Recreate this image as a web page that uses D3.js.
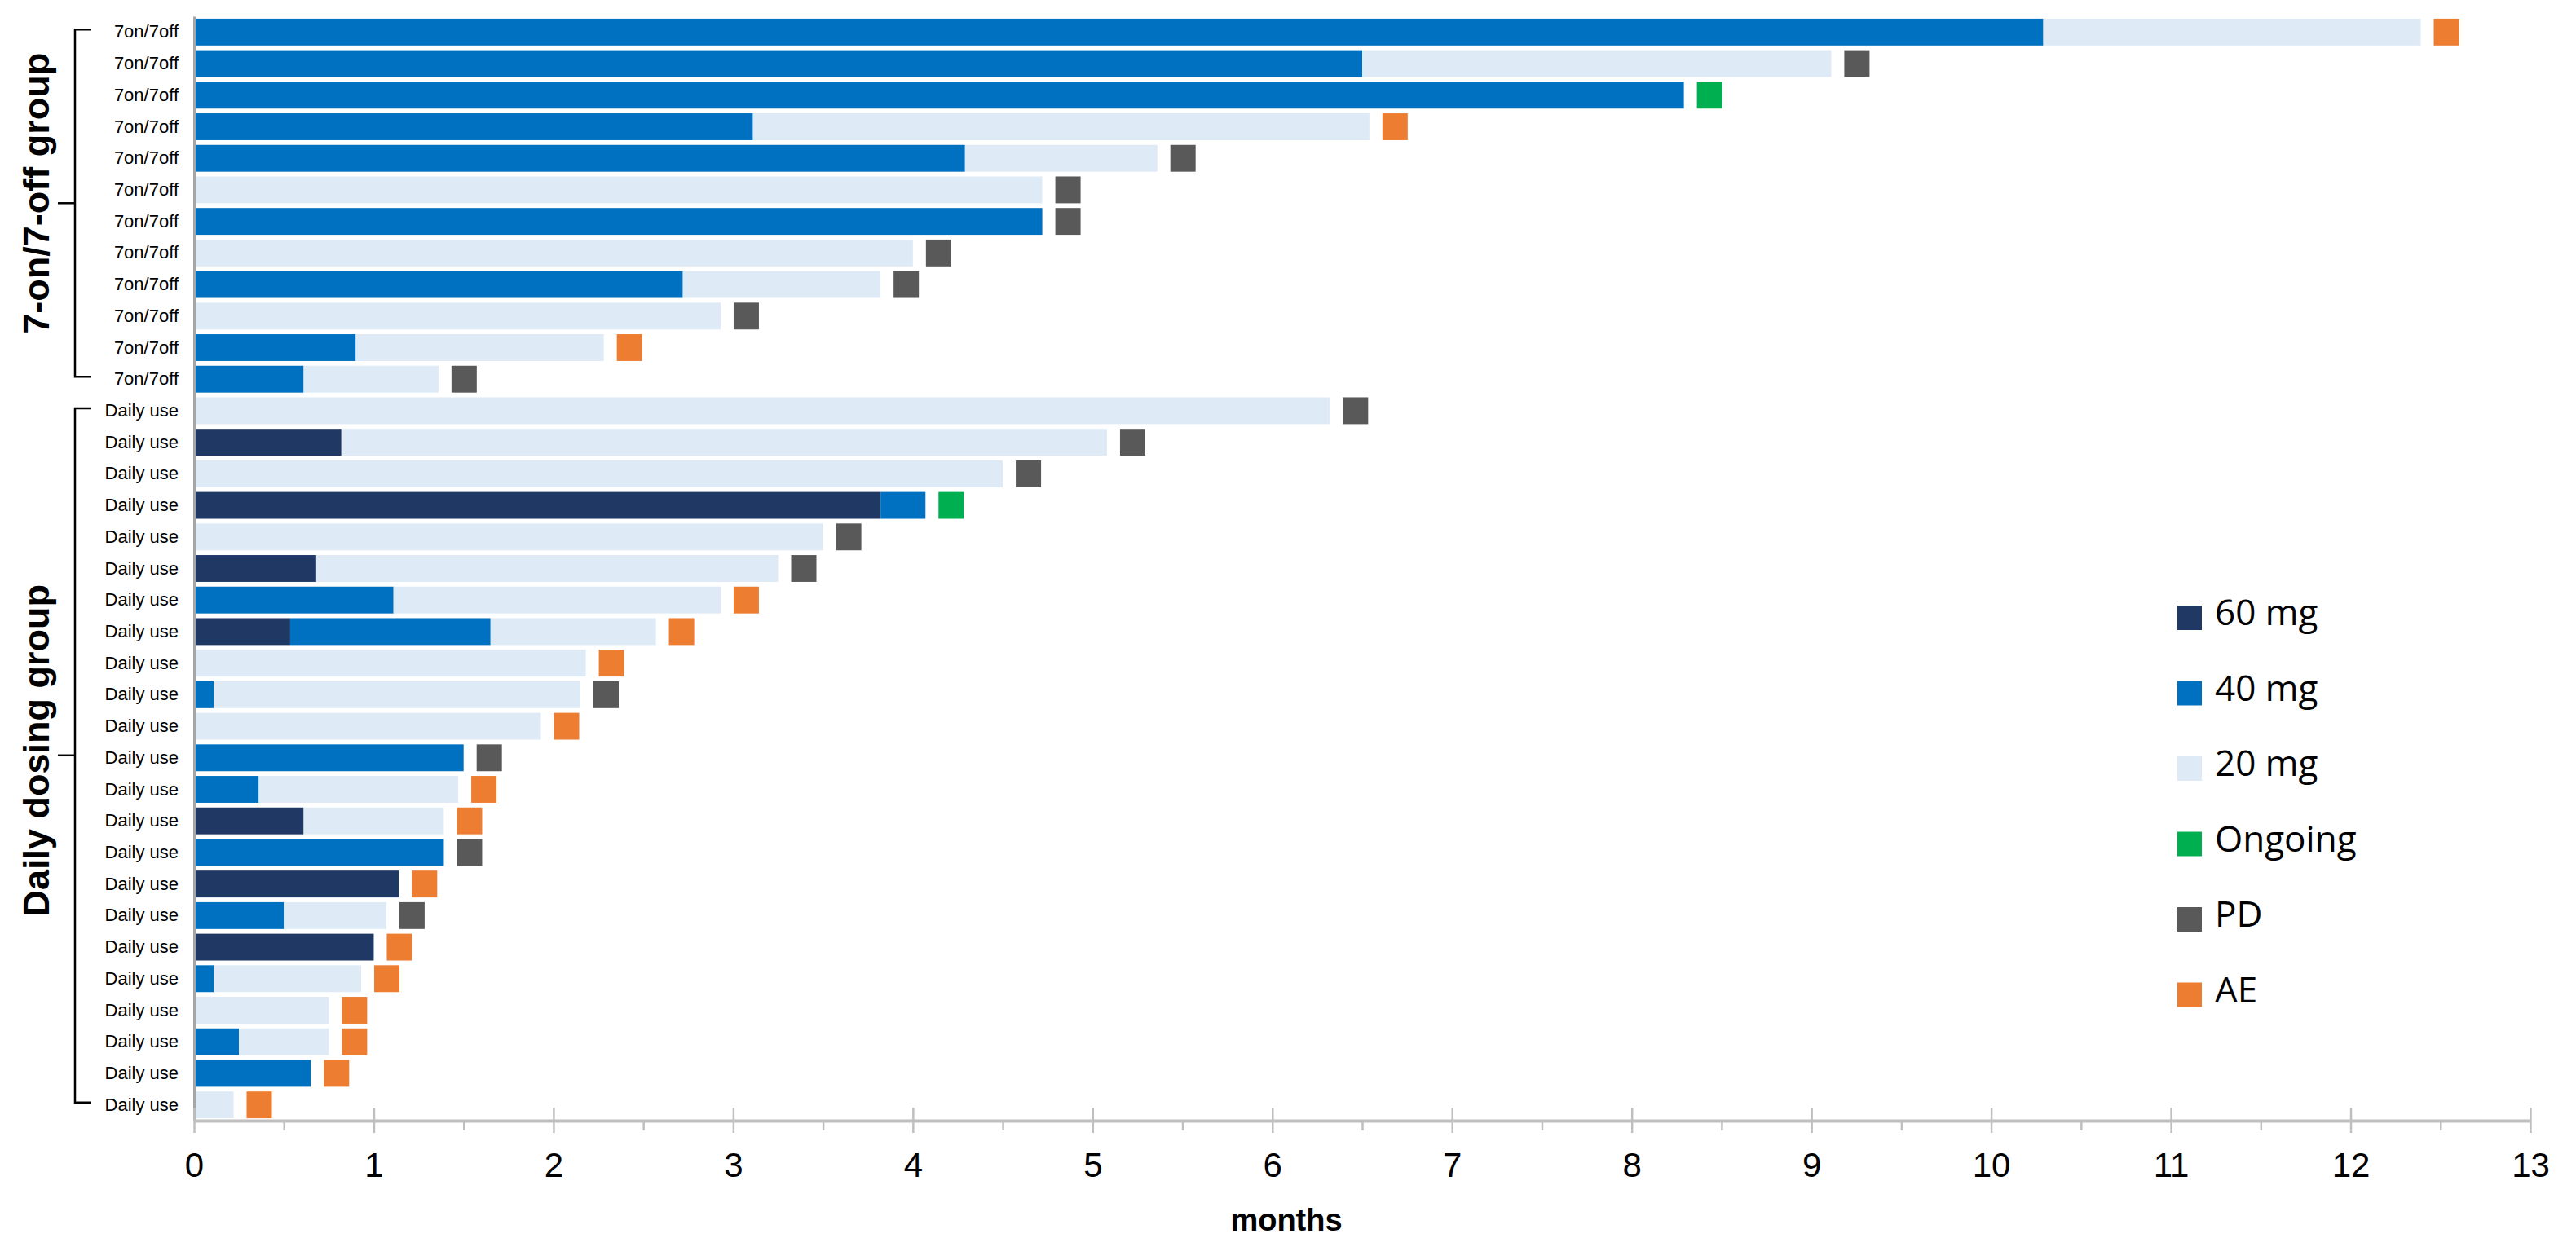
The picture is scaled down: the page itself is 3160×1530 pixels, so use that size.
<!DOCTYPE html>
<html>
<head>
<meta charset="utf-8">
<script src="https://cdn.jsdelivr.net/npm/d3@7"></script>
<style>
  body { margin: 0; background: #fff; }
  .rowlab text { font-family: "Liberation Sans", Arial, sans-serif; font-size: 22px; fill: #000; }
  .x.axis text { font-family: "Liberation Sans", Arial, sans-serif; font-size: 42px; fill: #000; }
</style>
</head>
<body>
<div id="chart"></div>
<script>
// patients, top to bottom
var rowLabels = [
  '7on/7off', '7on/7off', '7on/7off', '7on/7off', '7on/7off', '7on/7off',
  '7on/7off', '7on/7off', '7on/7off', '7on/7off', '7on/7off', '7on/7off',
  'Daily use', 'Daily use', 'Daily use', 'Daily use', 'Daily use', 'Daily use',
  'Daily use', 'Daily use', 'Daily use', 'Daily use', 'Daily use', 'Daily use',
  'Daily use', 'Daily use', 'Daily use', 'Daily use', 'Daily use', 'Daily use',
  'Daily use', 'Daily use', 'Daily use', 'Daily use', 'Daily use'
];
// months spent on each dose (60 -> 40 -> 20 mg)
var months60 = [0, 0, 0, 0, 0, 0, 0, 0, 0, 0, 0, 0,
  0, 0.82, 0, 3.82, 0, 0.68, 0, 0.535, 0, 0, 0, 0, 0, 0.61, 0, 1.14, 0, 1.0, 0, 0, 0, 0, 0];
var months40 = [10.29, 6.50, 8.29, 3.11, 4.29, 0, 4.72, 0, 2.72, 0, 0.90, 0.61,
  0, 0, 0, 0.25, 0, 0, 1.11, 1.115, 0, 0.11, 0, 1.50, 0.36, 0, 1.39, 0, 0.50, 0, 0.11, 0, 0.25, 0.65, 0];
var months20 = [2.10, 2.61, 0, 3.43, 1.07, 4.72, 0, 4.00, 1.10, 2.93, 1.38, 0.75,
  6.32, 4.26, 4.50, 0, 3.50, 2.57, 1.82, 0.92, 2.18, 2.04, 1.93, 0, 1.11, 0.78, 0, 0, 0.57, 0, 0.82, 0.75, 0.50, 0, 0.22];
var outcome = ['AE', 'PD', 'Ongoing', 'AE', 'PD', 'PD', 'PD', 'PD', 'PD', 'PD', 'AE', 'PD',
  'PD', 'PD', 'PD', 'Ongoing', 'PD', 'PD', 'AE', 'AE', 'AE', 'PD', 'AE', 'PD', 'AE', 'AE', 'PD',
  'AE', 'PD', 'AE', 'AE', 'AE', 'AE', 'AE', 'AE'];

var groupNames = ['7-on/7-off group', 'Daily dosing group'];
var groupRows = ['7on/7off', 'Daily use'];

var legendKeys = ['60 mg', '40 mg', '20 mg', 'Ongoing', 'PD', 'AE'];
var legendColors = ['#203864', '#0070c0', '#deeaf6', '#00b050', '#595959', '#ed7d31'];
var xTicks = [0, 1, 2, 3, 4, 5, 6, 7, 8, 9, 10, 11, 12, 13];

var color = d3.scaleOrdinal().domain(legendKeys).range(legendColors);

var width = 3160, height = 1530;
var svg = d3.select('#chart').append('svg')
  .attr('width', width)
  .attr('height', height);

/* Scales */
var xScale = d3.scaleLinear().domain([0, 13]).range([238, 3104]);
var yScale = d3.scaleBand()
  .domain(d3.range(rowLabels.length))
  .range([20, 1375])
  .paddingInner(0.15)
  .paddingOuter(0.075);

/* Stack the dose segments */
var table = rowLabels.map(function(d, i) {
  return { row: i, '60 mg': months60[i], '40 mg': months40[i], '20 mg': months20[i] };
});
var stack = d3.stack().keys(['60 mg', '40 mg', '20 mg']);
var series = stack(table);

svg.append('g')
  .selectAll('g')
  .data(series)
  .enter()
  .append('g')
  .attr('fill', d => color(d.key))
  .selectAll('rect')
  .data(d => d.filter(s => s[1] > s[0]))
  .enter()
  .append('rect')
  .attr('x', d => xScale(d[0]))
  .attr('width', d => xScale(d[1]) - xScale(d[0]))
  .attr('y', d => yScale(d.data.row))
  .attr('height', yScale.bandwidth());

/* Outcome markers at the end of each bar */
var markerGap = 16, markerWidth = 31;
var totals = table.map(function(d, i) { return months60[i] + months40[i] + months20[i]; });
svg.append('g')
  .selectAll('rect')
  .data(outcome)
  .enter()
  .append('rect')
  .attr('x', (d, i) => xScale(totals[i]) + markerGap)
  .attr('width', markerWidth)
  .attr('y', (d, i) => yScale(i))
  .attr('height', yScale.bandwidth())
  .attr('fill', d => color(d));

/* Axes */
var yAxis = d3.axisLeft(yScale)
  .tickSize(0)
  .tickPadding(19)
  .tickFormat(i => rowLabels[i]);
var yg = svg.append('g')
  .attr('class', 'rowlab')
  .attr('transform', 'translate(' + xScale(0) + ',0)')
  .call(yAxis);
yg.select('.domain').attr('stroke', '#a6a6a6').attr('stroke-width', 3);

var axisY = 1375;
var xMinor = svg.append('g')
  .attr('transform', 'translate(0,' + axisY + ')')
  .call(d3.axisBottom(xScale).tickValues(d3.range(0.5, 13, 1)).tickSize(12).tickFormat(''));
xMinor.select('.domain').remove();
xMinor.selectAll('line').attr('stroke', '#bfbfbf').attr('stroke-width', 2.5);

var xg = svg.append('g')
  .attr('class', 'x axis')
  .attr('transform', 'translate(0,' + axisY + ')')
  .call(d3.axisBottom(xScale).tickValues(xTicks).tickSizeOuter(0));
xg.select('.domain').attr('stroke', '#bfbfbf').attr('stroke-width', 4);
xg.selectAll('.tick line').attr('y1', -16).attr('y2', 15).attr('stroke', '#bfbfbf').attr('stroke-width', 2.5);
xg.selectAll('.tick text').attr('y', 39).attr('dy', '0.71em');

svg.append('text')
  .attr('x', 1578)
  .attr('y', 1510)
  .attr('text-anchor', 'middle')
  .style('font-family', '"Liberation Sans", Arial, sans-serif')
  .style('font-weight', 'bold')
  .style('font-size', '38px')
  .text('months');

/* Group brackets */
groupRows.forEach(function(g, k) {
  var first = rowLabels.indexOf(g);
  var last = rowLabels.lastIndexOf(g);
  var y0 = yScale(first) + yScale.bandwidth() / 2 - 3;
  var y1 = yScale(last) + yScale.bandwidth() / 2 - 3;
  var mid = (y0 + y1) / 2;
  var b = svg.append('g').attr('stroke', '#000').attr('stroke-width', 2.5).attr('fill', 'none');
  b.append('path').attr('d', 'M112,' + y0 + 'H92V' + y1 + 'H112');
  b.append('path').attr('d', 'M71,' + mid + 'H92');
  svg.append('text')
    .attr('transform', 'translate(60,' + (mid - (k === 0 ? 12 : 6)) + ') rotate(-90)')
    .attr('text-anchor', 'middle')
    .style('font-family', '"Liberation Sans", Arial, sans-serif')
    .style('font-weight', 'bold')
    .style('font-size', '45px')
    .text(groupNames[k]);
});

/* Legend */
var legend = svg.append('g')
  .selectAll('g')
  .data(legendKeys)
  .enter()
  .append('g')
  .attr('transform', (d, i) => 'translate(2671,' + (758 + i * 92.5) + ')');
legend.append('rect')
  .attr('x', 0)
  .attr('y', -15)
  .attr('width', 30)
  .attr('height', 30)
  .attr('fill', d => color(d));
legend.append('text')
  .attr('x', 46)
  .attr('y', 9)
  .style('font-family', '"Open Sans", "Noto Sans", sans-serif')
  .style('font-size', '44px')
  .text(d => d);
</script>
</body>
</html>
